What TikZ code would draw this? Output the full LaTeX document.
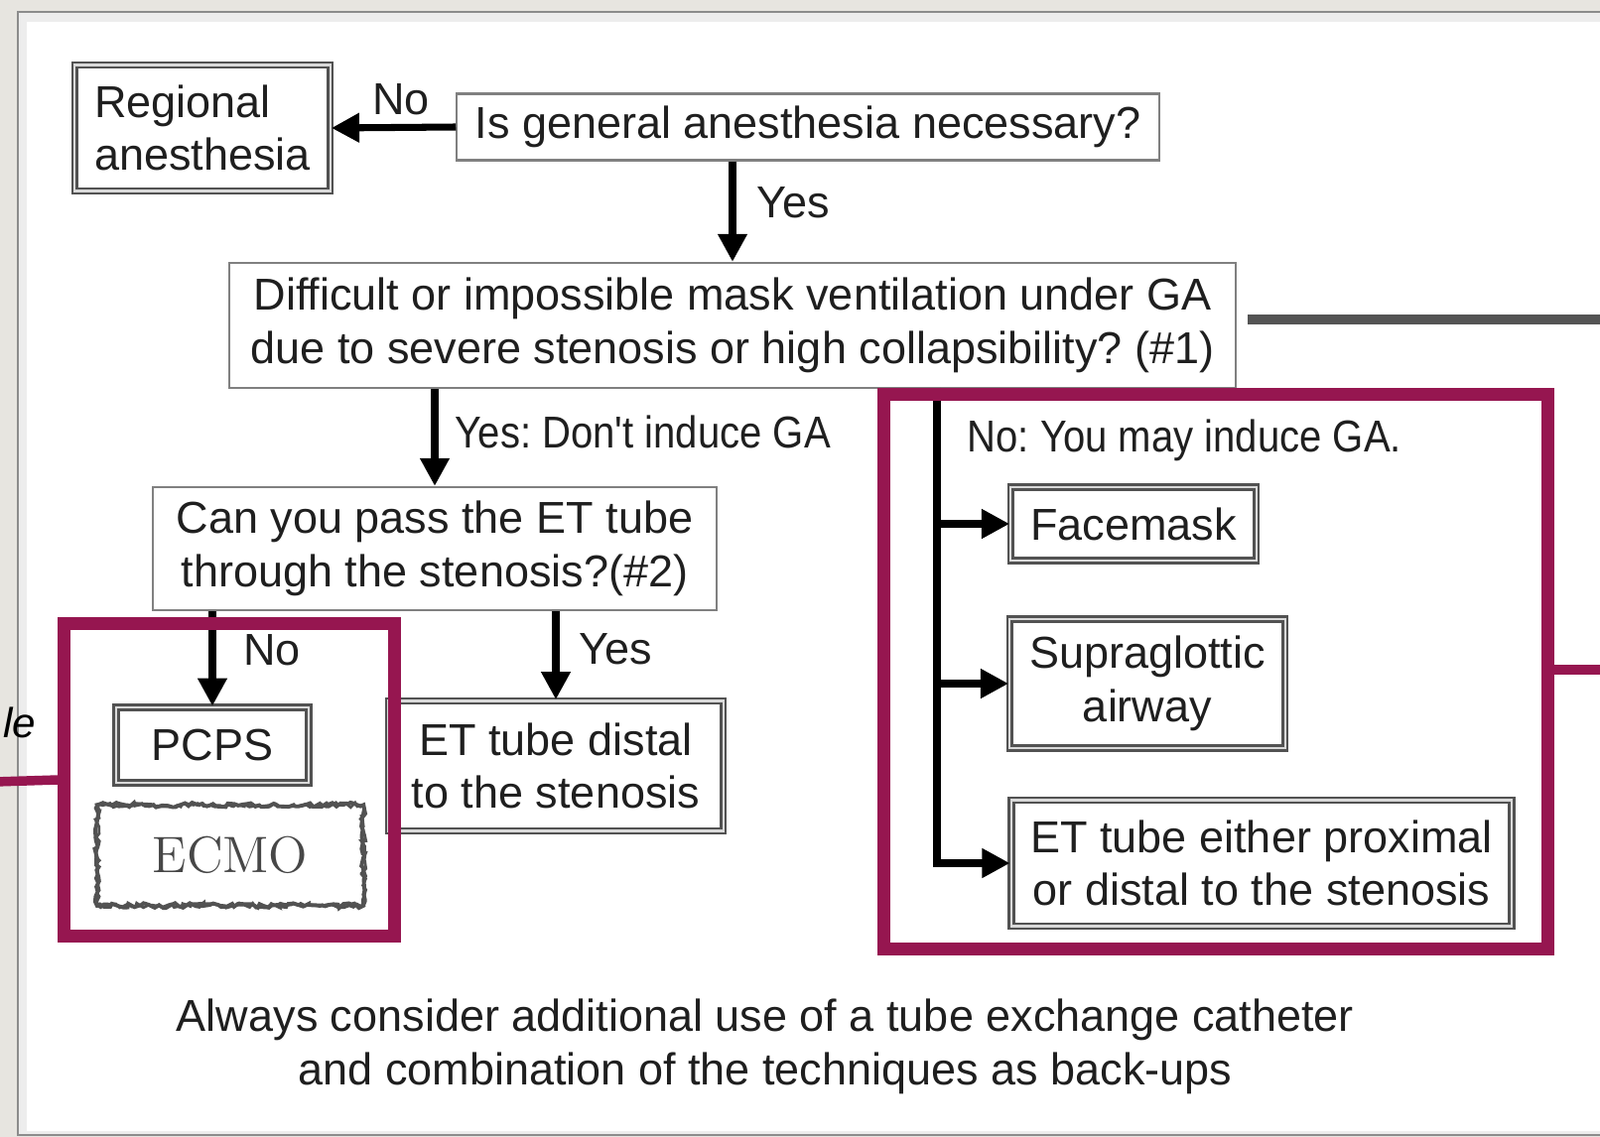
\documentclass[tikz,border=0pt]{standalone}
\usepackage{fontspec}
\newfontfamily\arialfont{Liberation Sans}
\newfontfamily\arialnarrow[FakeStretch=0.89]{Liberation Sans}
\frenchspacing
\definecolor{PageBackground}{RGB}{231,229,224}
\definecolor{FrameMagenta}{RGB}{150,22,80}
\colorlet{BoxBorder}{black!68}
\colorlet{ThinBorder}{black!50}
\colorlet{RuleGray}{black!67}
\usetikzlibrary{arrows.meta, decorations.pathmorphing}
\tikzset{
    box single/.style={
        draw=ThinBorder, line width=0.6pt, fill=white, inner sep=0pt,
        align=center, text=black!88,
        font=\arialfont\fontsize{12.8}{15.2}\selectfont
    },
    box double/.style={
        draw=BoxBorder, line width=0.75pt, double=gray!30, double distance=0.6pt,
        fill=white, inner sep=0pt, align=center, text=black!88,
        font=\arialfont\fontsize{12.8}{15.2}\selectfont
    },
    ecmo text/.style={
        inner sep=0pt, text=black!72, font=\fontsize{14.7}{16}\selectfont
    },
    rough line/.style={
        draw=black!68, line width=1.1pt, decorate,
        decoration={random steps, segment length=1.2pt, amplitude=0.7pt}
    },
    edge label/.style={
        inner sep=0pt, align=center, text=black!88,
        font=\arialfont\fontsize{12.8}{15.2}\selectfont
    },
    edge label narrow/.style={
        edge label, font=\arialnarrow\fontsize{12.8}{15.2}\selectfont
    },
    hand note/.style={
        inner sep=0pt, font=\arialfont\itshape\fontsize{12}{14}\selectfont
    },
    flow arrow/.style={
        line width=2pt, -{Triangle[length=8pt, width=8pt]}
    },
    highlight frame/.style={draw=FrameMagenta, line width=3.7pt, inner sep=0pt},
    highlight rule/.style={draw=FrameMagenta, line width=2.7pt},
    rule gray/.style={draw=RuleGray, line width=3.1pt}
}

\begin{document}
\begin{tikzpicture}[x=0.01cm, y=-0.01cm]

\clip (0,0) rectangle (1612,1146);

% Fondo y panel blanco
\fill[PageBackground] (0,0) rectangle (1612,1146);
\draw[draw=black!45, fill=gray!14, line width=0.6pt] (18,12) rectangle (1640,1144);
\fill[white] (27,22) rectangle (1640,1140);

% Cajas del diagrama
\node[box double, align=left, minimum width=2.57cm, minimum height=1.27cm] (reg) at (204,129) {Regional\\anesthesia};
\node[box single, minimum width=7.07cm, minimum height=0.67cm] (askGA) at (814,128) {Is general anesthesia necessary?};
\node[box single, minimum width=10.14cm, minimum height=1.26cm] (maskVent) at (738,328)
    {Difficult or impossible mask ventilation under GA\\due to severe stenosis or high collapsibility? (\#1)};
\node[box single, minimum width=5.68cm, minimum height=1.24cm] (passTube) at (438,553)
    {Can you pass the ET tube\\through the stenosis?(\#2)};
\node[box double, minimum width=1.94cm, minimum height=0.76cm] (pcps) at (214,751) {PCPS};
\node[box double, minimum width=3.37cm, minimum height=1.31cm] (tubeDistal) at (560,772) {ET tube distal\\to the stenosis};
\node[ecmo text, minimum width=2.67cm, minimum height=1.0cm] (ecmo) at (232,862) {ECMO};
\node[box double, minimum width=2.47cm, minimum height=0.74cm] (facemask) at (1142,528) {Facemask};
\node[box double, minimum width=2.77cm, minimum height=1.30cm] (supraglottic) at (1156,689) {Supraglottic\\airway};
\node[box double, minimum width=5.04cm, minimum height=1.27cm] (tubeEither) at (1271,870)
    {ET tube either proximal\\or distal to the stenosis};

% Borde irregular de ECMO
\draw[rough line] (ecmo.north west) rectangle (ecmo.south east);
\draw[rough line, line width=0.8pt] (ecmo.north west) rectangle (ecmo.south east);

% Flechas
\draw[flow arrow] (askGA.west) -- (reg.east);
\draw[flow arrow] (askGA.south -| maskVent.north) -- (maskVent.north);
\draw[flow arrow] (maskVent.south -| passTube.north) -- (passTube.north);
\draw[flow arrow] (passTube.south -| pcps.north) -- (pcps.north);
\draw[flow arrow] (passTube.south -| tubeDistal.north) -- (tubeDistal.north);

\coordinate (trunk) at (944,391);
\draw[flow arrow] (trunk) |- (tubeEither.west);
\draw[flow arrow] (trunk |- facemask.west) -- (facemask.west);
\draw[flow arrow] (trunk |- supraglottic.west) -- (supraglottic.west);

% Etiquetas de las flechas
\node[edge label] (noRegional) at (404,100) {No};
\node[edge label] (yesGA) at (799,204) {Yes};
\node[edge label narrow, anchor=west] (yesNoInduce) at (458,435) {Yes: Don't induce GA};
\node[edge label] (noPCPS) at (274,655) {No};
\node[edge label] (yesDistal) at (620,654) {Yes};
\node[edge label narrow, anchor=west] (noMayInduce) at (974,444) {No: You may induce GA.};
\node[edge label] (backups) at (771,1055)
    {Always consider additional use of a tube exchange catheter\\and combination of the techniques as back-ups};

% Marcos resaltados y sus lineas
\node[highlight frame, minimum width=3.32cm, minimum height=3.15cm] (frameLeft) at (231,786) {};
\node[highlight frame, minimum width=6.68cm, minimum height=5.58cm] (frameRight) at (1225,677) {};

\coordinate (leftOut) at (-5,788);
\coordinate (rightOut) at (1620,675);
\draw[highlight rule] (leftOut) -- (frameLeft.west);
\draw[highlight rule] (frameRight.east |- rightOut) -- (rightOut);

\coordinate (grayStart) at (1257,322);
\coordinate (grayEnd) at (1620,322);
\draw[rule gray] (grayStart) -- (grayEnd);

% Nota cortada a la izquierda
\node[hand note, anchor=east] (noteTail) at (37,728) {le};

\end{tikzpicture}
\end{document}
